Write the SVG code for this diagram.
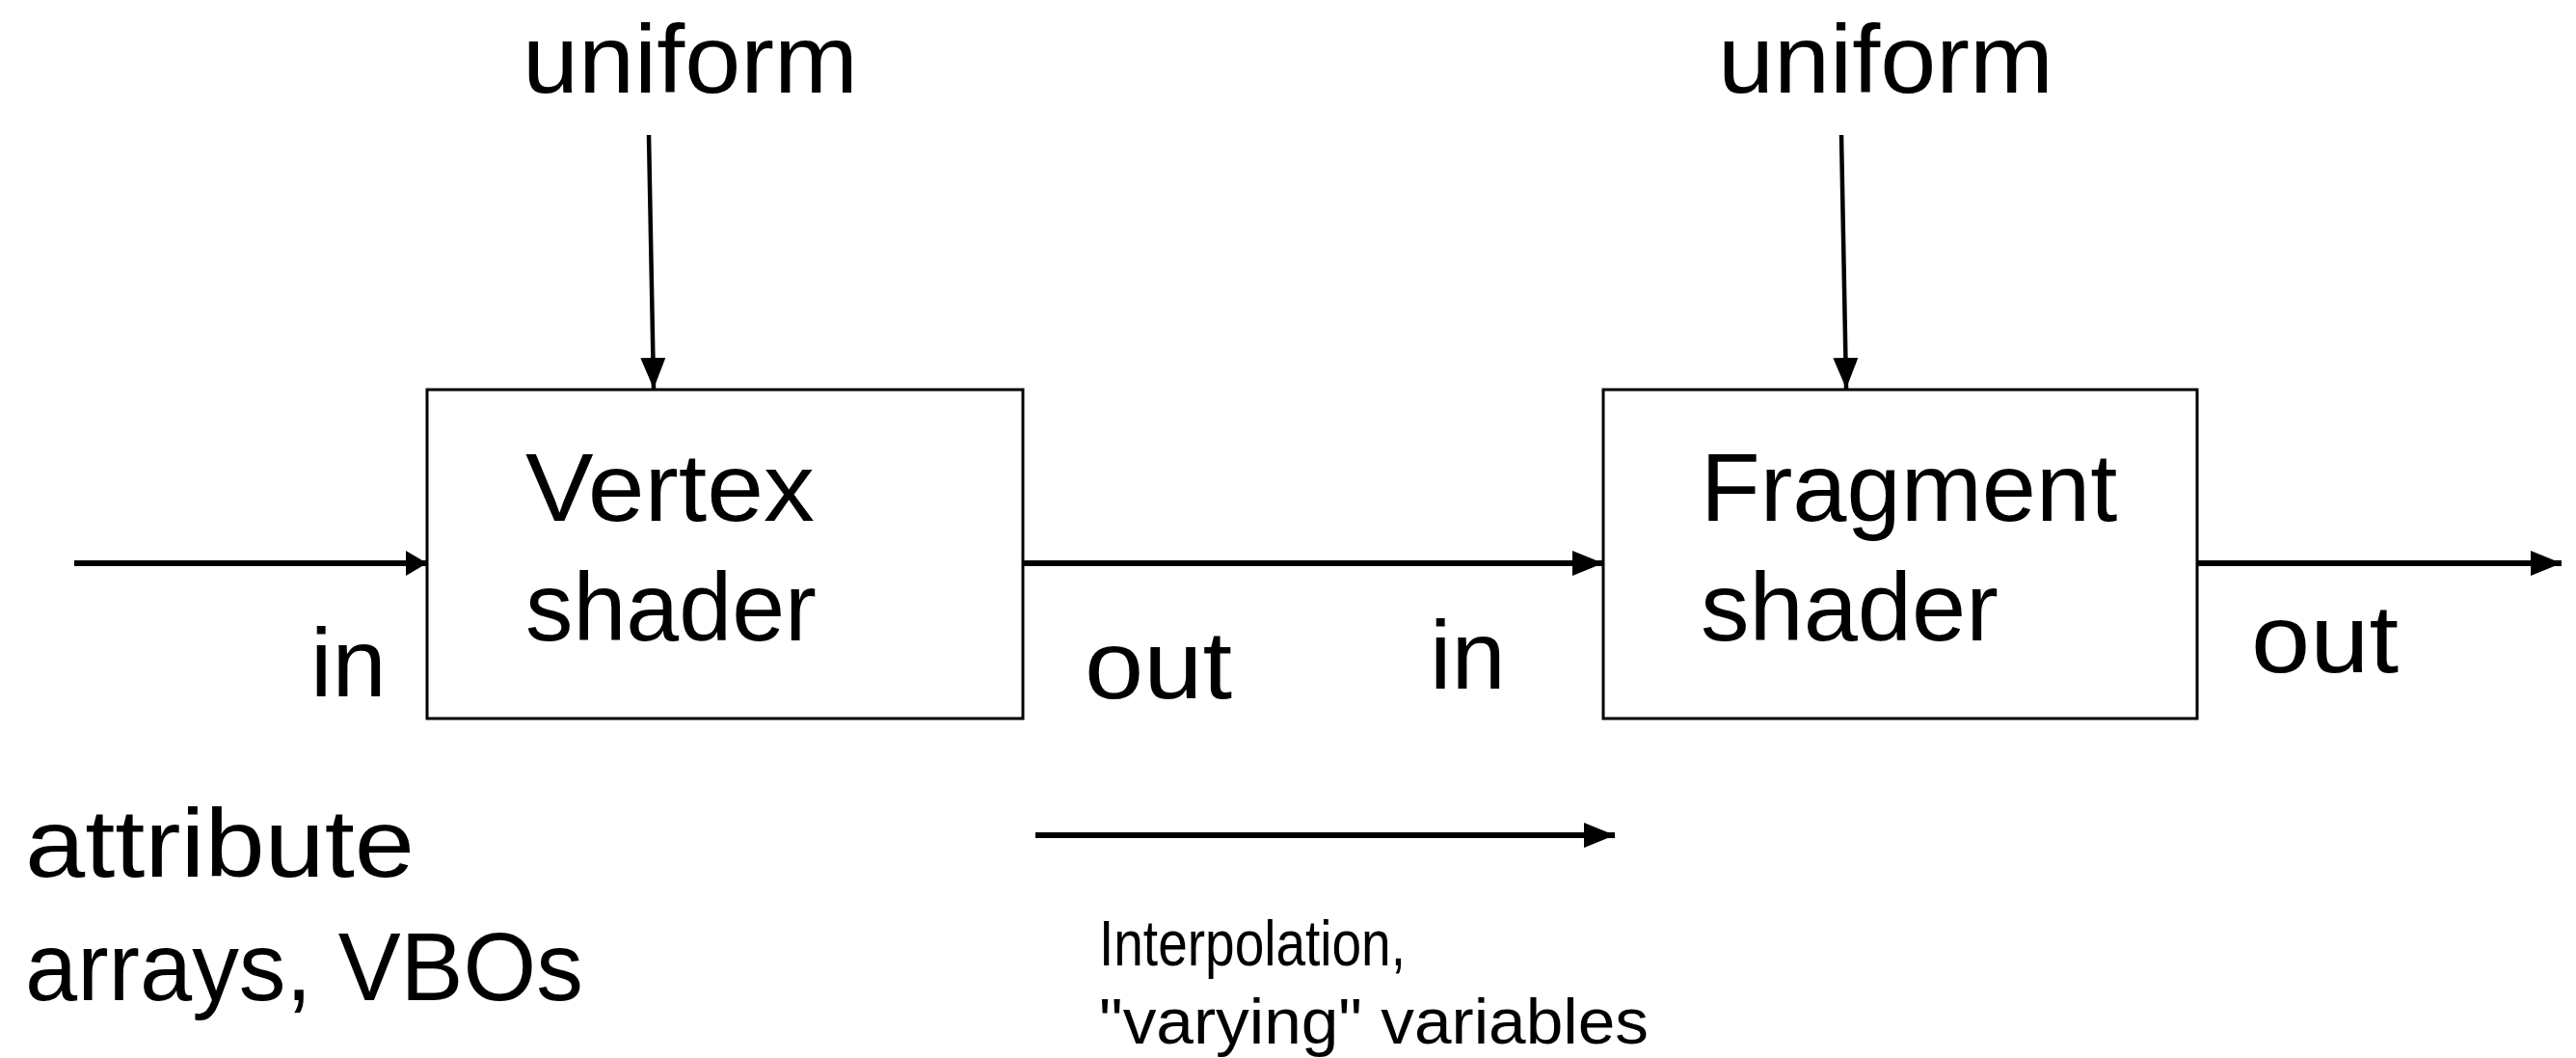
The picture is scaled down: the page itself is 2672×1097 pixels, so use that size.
<svg xmlns="http://www.w3.org/2000/svg" width="2672" height="1097" viewBox="0 0 2672 1097">
<defs>
<style>
.big{font-family:"Liberation Sans",Arial,sans-serif;font-size:101px;fill:#000}
.small{font-family:"Liberation Sans",Arial,sans-serif;font-size:67px;fill:#000}
.box{fill:#fff;stroke:#000;stroke-width:3}
.thin{stroke:#000;stroke-width:4.5;fill:none}
.thick{stroke:#000;stroke-width:6;fill:none}
</style>
<marker id="ahv" viewBox="0 0 32 26" refX="32" refY="13" markerWidth="32" markerHeight="26" markerUnits="userSpaceOnUse" orient="auto">
<path d="M0,0 L32,13 L0,26 Z" fill="#000"/>
</marker>
<marker id="ahh" viewBox="0 0 32 26" refX="32" refY="13" markerWidth="32" markerHeight="26" markerUnits="userSpaceOnUse" orient="auto">
<path d="M0,0 L32,13 L0,26 Z" fill="#000"/>
</marker>
<marker id="ahs" viewBox="0 0 22 26" refX="22" refY="13" markerWidth="22" markerHeight="26" markerUnits="userSpaceOnUse" orient="auto">
<path d="M0,0 L22,13 L0,26 Z" fill="#000"/>
</marker>
</defs>
<rect width="2672" height="1097" fill="#fff"/>
<g id="connectors">
<line class="thin" x1="673" y1="140" x2="678" y2="403" marker-end="url(#ahv)"/>
<line class="thin" x1="1910" y1="140" x2="1915" y2="403" marker-end="url(#ahv)"/>
<line class="thick" x1="77" y1="584" x2="443" y2="584" marker-end="url(#ahs)"/>
<line class="thick" x1="1061" y1="584" x2="1663" y2="584" marker-end="url(#ahh)"/>
<line class="thick" x1="2279" y1="584" x2="2657" y2="584" marker-end="url(#ahh)"/>
<line class="thick" x1="1074" y1="866" x2="1675" y2="866" marker-end="url(#ahh)"/>
</g>
<g id="vertex-shader">
<rect class="box" x="443" y="404" width="618" height="341"/>
<text class="big" x="545" y="540" textLength="300" lengthAdjust="spacingAndGlyphs">Vertex</text>
<text class="big" x="545" y="664" textLength="302" lengthAdjust="spacingAndGlyphs">shader</text>
</g>
<g id="fragment-shader">
<rect class="box" x="1663" y="404" width="616" height="341"/>
<text class="big" x="1764" y="540">Fragment</text>
<text class="big" x="1764" y="664">shader</text>
</g>
<g id="labels">
<text class="big" x="542" y="96" textLength="348" lengthAdjust="spacingAndGlyphs">uniform</text>
<text class="big" x="1782" y="96" textLength="348" lengthAdjust="spacingAndGlyphs">uniform</text>
<text class="big" x="322" y="722">in</text>
<text class="big" x="1125" y="724" textLength="153" lengthAdjust="spacingAndGlyphs">out</text>
<text class="big" x="1483" y="714">in</text>
<text class="big" x="2335" y="697" textLength="153" lengthAdjust="spacingAndGlyphs">out</text>
<text class="big" x="26" y="909" textLength="404" lengthAdjust="spacingAndGlyphs">attribute</text>
<text class="big" x="26" y="1037" textLength="579" lengthAdjust="spacingAndGlyphs">arrays, VBOs</text>
<text class="small" x="1140" y="1001" textLength="318" lengthAdjust="spacingAndGlyphs">Interpolation,</text>
<text class="small" x="1140" y="1082" textLength="570" lengthAdjust="spacingAndGlyphs">"varying" variables</text>
</g>
</svg>
